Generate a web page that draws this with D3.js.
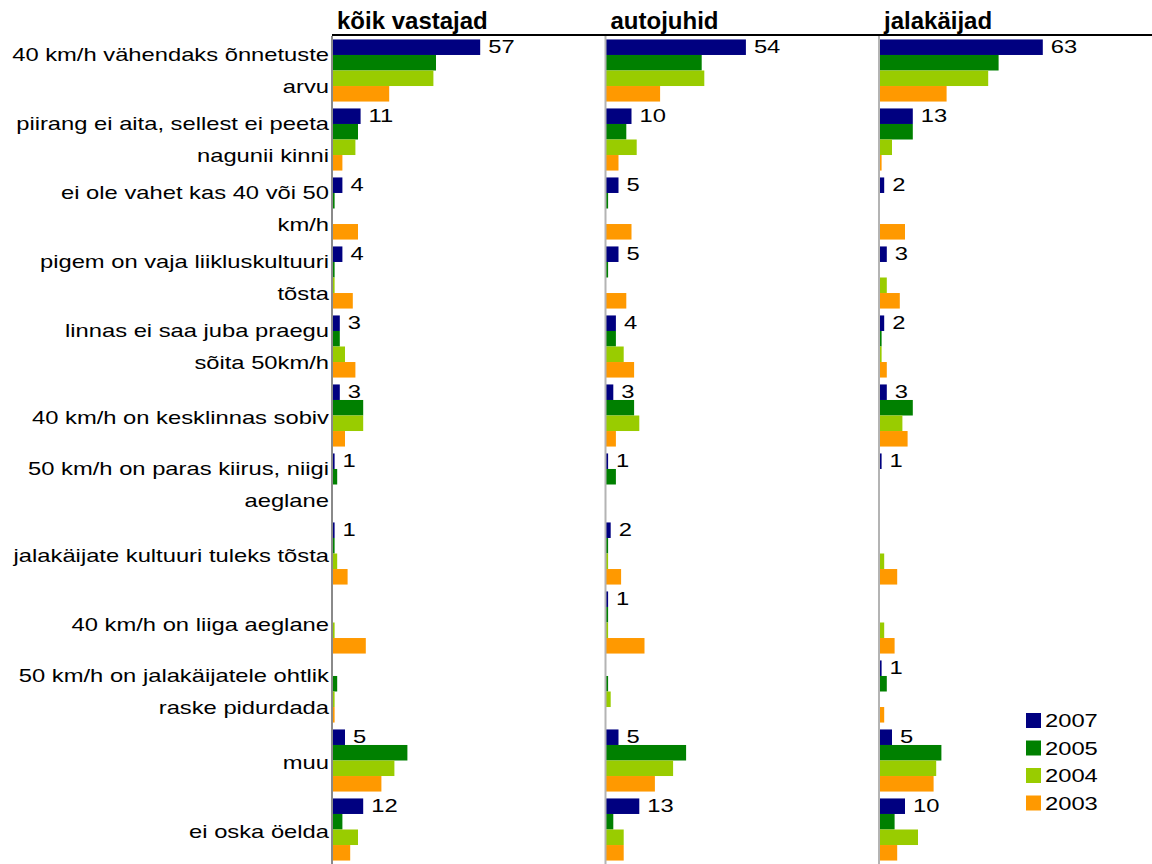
<!DOCTYPE html>
<html><head><meta charset="utf-8">
<script src="https://cdn.jsdelivr.net/npm/d3@7"></script>
<style>
body{margin:0;background:#fff}
svg{display:block}
text{font-family:"Liberation Sans",Arial,Helvetica,sans-serif;fill:#000}
</style>
</head><body>
<svg id="chart" width="1152" height="864"></svg>
<script>
// ---- data ----
const categoryLines = [
  ["40 km/h vähendaks õnnetuste", "arvu"],
  ["piirang ei aita, sellest ei peeta", "nagunii kinni"],
  ["ei ole vahet kas 40 või 50", "km/h"],
  ["pigem on vaja liikluskultuuri", "tõsta"],
  ["linnas ei saa juba praegu", "sõita 50km/h"],
  ["40 km/h on kesklinnas sobiv"],
  ["50 km/h on paras kiirus, niigi", "aeglane"],
  ["jalakäijate kultuuri tuleks tõsta"],
  ["40 km/h on liiga aeglane"],
  ["50 km/h on jalakäijatele ohtlik", "raske pidurdada"],
  ["muu"],
  ["ei oska öelda"]
];
const panelTitles = ["kõik vastajad", "autojuhid", "jalakäijad"];
const years = ["2007", "2005", "2004", "2003"];
const yearColors = ["#000080", "#008000", "#99cc00", "#ff9900"];

// kõik vastajad
const koik2007 = [57, 11, 4, 4, 3, 3, 1, 1, 0, 0, 5, 12];
const koik2005 = [40, 10, 1, 1, 3, 12, 2, 1, 0, 2, 29, 4];
const koik2004 = [39, 9, 0, 1, 5, 12, 0, 2, 1, 1, 24, 10];
const koik2003 = [22, 4, 10, 8, 9, 5, 0, 6, 13, 1, 19, 7];
// autojuhid
const auto2007 = [54, 10, 5, 5, 4, 3, 1, 2, 1, 0, 5, 13];
const auto2005 = [37, 8, 1, 1, 4, 11, 4, 1, 1, 1, 31, 3];
const auto2004 = [38, 12, 0, 0, 7, 13, 0, 1, 1, 2, 26, 7];
const auto2003 = [21, 5, 10, 8, 11, 4, 0, 6, 15, 0, 19, 7];
// jalakäijad
const jala2007 = [63, 13, 2, 3, 2, 3, 1, 0, 0, 1, 5, 10];
const jala2005 = [46, 13, 0, 0, 1, 13, 0, 0, 0, 3, 24, 6];
const jala2004 = [42, 5, 0, 3, 1, 9, 0, 2, 2, 0, 22, 15];
const jala2003 = [26, 1, 10, 8, 3, 11, 0, 7, 6, 2, 21, 7];

const panelData = [
  [koik2007, koik2005, koik2004, koik2003],
  [auto2007, auto2005, auto2004, auto2003],
  [jala2007, jala2005, jala2004, jala2003]
];

// ---- layout ----
const svg = d3.select("#chart");
const plotTop = 36, plotBottom = 864;
const panelX = [332, 605.5, 879];
const panelW = 273;
const sx = 1.25;          // horizontal stretch of the small text
const fs = 19;            // small text font size

const x = d3.scaleLinear().domain([0, 105]).range([0, panelW]);
const y = d3.scaleBand().domain(d3.range(categoryLines.length)).range([plotTop, plotBottom]).paddingInner(0.1).paddingOuter(0.05);
const ySub = d3.scaleBand().domain(d3.range(years.length)).range([0, y.bandwidth()]);

// top line
svg.append("line").attr("x1", panelX[0]).attr("x2", 1152).attr("y1", 35).attr("y2", 35)
  .attr("stroke", "#000").attr("stroke-width", 2);

// category labels
const catG = svg.append("g");
categoryLines.forEach((lines, i) => {
  const cy = y(i) + y.bandwidth() / 2 + (lines.length === 1 ? 2 : 0);
  const n = lines.length;
  lines.forEach((ln, k) => {
    const ly = cy + (k - (n - 1) / 2) * 32;
    catG.append("text")
      .attr("transform", `translate(329,${ly}) scale(${sx},1)`)
      .attr("text-anchor", "end").attr("dominant-baseline", "central")
      .style("font-size", fs + "px").text(ln);
  });
});

panelData.forEach((series, p) => {
  const g = svg.append("g").attr("transform", `translate(${panelX[p]},0)`);
  // title
  g.append("text").attr("x", 5).attr("y", 29).style("font-size", "24px").style("font-weight", "bold")
    .text(panelTitles[p]);
  // bars
  series.forEach((vals, s) => {
    g.selectAll(null).data(vals).enter().append("rect")
      .attr("x", 0)
      .attr("y", (d, i) => y(i) + ySub(s))
      .attr("width", d => x(d))
      .attr("height", ySub.bandwidth())
      .attr("fill", yearColors[s]);
  });
  // value labels (2007)
  g.selectAll(null).data(series[0].map((d, i) => ({d, i})).filter(o => o.d > 0)).enter().append("text")
    .attr("transform", o => `translate(${x(o.d) + 8},${y(o.i) + ySub(0) + ySub.bandwidth() / 2}) scale(${sx},1)`)
    .attr("dominant-baseline", "central")
    .style("font-size", fs + "px")
    .text(o => o.d);
  // axis line
  g.append("line").attr("x1", 0).attr("x2", 0).attr("y1", 36).attr("y2", plotBottom)
    .attr("stroke", p === 0 ? "#8a8a8a" : "#b4b4b4").attr("stroke-width", 2);
});

// legend
const leg = svg.append("g").attr("transform", "translate(1026,713)");
years.forEach((yr, i) => {
  const gy = i * 27.5;
  leg.append("rect").attr("x", 0).attr("y", gy).attr("width", 15).attr("height", 15).attr("fill", yearColors[i]);
  leg.append("text").attr("transform", `translate(19,${gy + 8}) scale(${sx},1)`)
    .attr("dominant-baseline", "central").style("font-size", fs + "px").text(yr);
});
</script>
</body></html>
